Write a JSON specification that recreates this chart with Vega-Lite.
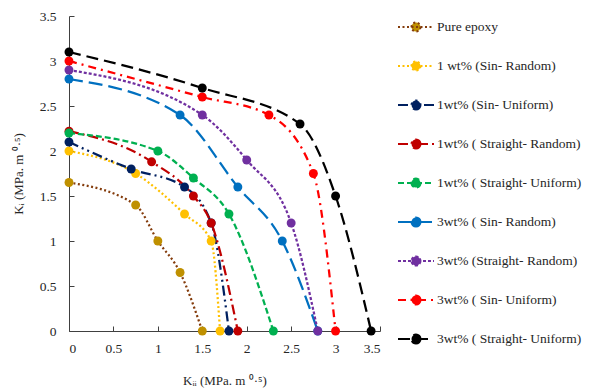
{
  "$schema": "https://vega.github.io/schema/vega-lite/v6.json",
  "width": 311,
  "height": 315,
  "autosize": {"type": "none"},
  "padding": {"left": 69, "top": 16, "right": 213, "bottom": 61},
  "background": "white",
  "config": {
    "view": {"stroke": null},
    "font": "Liberation Serif",
    "axis": {
      "grid": false,
      "domainColor": "#404040",
      "tickColor": "#404040",
      "tickSize": -5,
      "labelFont": "Liberation Serif",
      "labelFontSize": 13.5,
      "labelColor": "#262626",
      "titleFont": "Liberation Serif",
      "titleFontSize": 13,
      "titleFontWeight": "normal",
      "titleColor": "#262626"
    }
  },
  "data": {
    "values": [
      {"s": "Pure epoxy", "x": 0, "y": 1.65},
      {"s": "Pure epoxy", "x": 0.75, "y": 1.4},
      {"s": "Pure epoxy", "x": 1.0, "y": 1.0},
      {"s": "Pure epoxy", "x": 1.25, "y": 0.65},
      {"s": "Pure epoxy", "x": 1.5, "y": 0},
      {"s": "1 wt% (Sin- Random)", "x": 0, "y": 2.0},
      {"s": "1 wt% (Sin- Random)", "x": 0.75, "y": 1.75},
      {"s": "1 wt% (Sin- Random)", "x": 1.3, "y": 1.3},
      {"s": "1 wt% (Sin- Random)", "x": 1.6, "y": 1.0},
      {"s": "1 wt% (Sin- Random)", "x": 1.7, "y": 0},
      {"s": "1wt% (Sin- Uniform)", "x": 0, "y": 2.1},
      {"s": "1wt% (Sin- Uniform)", "x": 0.7, "y": 1.8},
      {"s": "1wt% (Sin- Uniform)", "x": 1.3, "y": 1.6},
      {"s": "1wt% (Sin- Uniform)", "x": 1.6, "y": 1.2},
      {"s": "1wt% (Sin- Uniform)", "x": 1.8, "y": 0},
      {"s": "1wt% ( Straight- Random)", "x": 0, "y": 2.22},
      {"s": "1wt% ( Straight- Random)", "x": 0.93, "y": 1.88},
      {"s": "1wt% ( Straight- Random)", "x": 1.4, "y": 1.5},
      {"s": "1wt% ( Straight- Random)", "x": 1.6, "y": 1.2},
      {"s": "1wt% ( Straight- Random)", "x": 1.9, "y": 0},
      {"s": "1wt% ( Straight- Uniform)", "x": 0, "y": 2.2},
      {"s": "1wt% ( Straight- Uniform)", "x": 1.0, "y": 2.0},
      {"s": "1wt% ( Straight- Uniform)", "x": 1.4, "y": 1.7},
      {"s": "1wt% ( Straight- Uniform)", "x": 1.8, "y": 1.3},
      {"s": "1wt% ( Straight- Uniform)", "x": 2.3, "y": 0},
      {"s": "3wt% ( Sin- Random)", "x": 0, "y": 2.8},
      {"s": "3wt% ( Sin- Random)", "x": 1.25, "y": 2.4},
      {"s": "3wt% ( Sin- Random)", "x": 1.9, "y": 1.6},
      {"s": "3wt% ( Sin- Random)", "x": 2.4, "y": 1.0},
      {"s": "3wt% ( Sin- Random)", "x": 2.8, "y": 0},
      {"s": "3wt% (Straight- Random)", "x": 0, "y": 2.9},
      {"s": "3wt% (Straight- Random)", "x": 1.5, "y": 2.4},
      {"s": "3wt% (Straight- Random)", "x": 2.0, "y": 1.9},
      {"s": "3wt% (Straight- Random)", "x": 2.5, "y": 1.2},
      {"s": "3wt% (Straight- Random)", "x": 2.8, "y": 0},
      {"s": "3wt% ( Sin- Uniform)", "x": 0, "y": 3.0},
      {"s": "3wt% ( Sin- Uniform)", "x": 1.5, "y": 2.6},
      {"s": "3wt% ( Sin- Uniform)", "x": 2.25, "y": 2.4},
      {"s": "3wt% ( Sin- Uniform)", "x": 2.75, "y": 1.75},
      {"s": "3wt% ( Sin- Uniform)", "x": 3.0, "y": 0},
      {"s": "3wt% ( Straight- Uniform)", "x": 0, "y": 3.1},
      {"s": "3wt% ( Straight- Uniform)", "x": 1.5, "y": 2.7},
      {"s": "3wt% ( Straight- Uniform)", "x": 2.6, "y": 2.3},
      {"s": "3wt% ( Straight- Uniform)", "x": 3.0, "y": 1.5},
      {"s": "3wt% ( Straight- Uniform)", "x": 3.4, "y": 0}
    ]
  },
  "layer": [
    {
      "mark": {"type": "line", "interpolate": "monotone", "strokeWidth": 2.25},
      "encoding": {
        "x": {
          "field": "x", "type": "quantitative",
          "scale": {"domain": [0, 3.5], "nice": false},
          "axis": {"values": [0, 0.5, 1, 1.5, 2, 2.5, 3, 3.5], "format": "~g", "labelPadding": 15, "title": "Kᵢᵢ (MPa. m ⁰·⁵)", "titlePadding": 20}
        },
        "y": {
          "field": "y", "type": "quantitative",
          "scale": {"domain": [0, 3.5], "nice": false},
          "axis": {"values": [0, 0.5, 1, 1.5, 2, 2.5, 3, 3.5], "format": "~g", "labelPadding": 18, "title": "Kᵢ (MPa. m ⁰·⁵)", "titlePadding": 14}
        },
        "stroke": {
          "field": "s", "type": "nominal",
          "scale": {
            "domain": ["Pure epoxy", "1 wt% (Sin- Random)", "1wt% (Sin- Uniform)", "1wt% ( Straight- Random)", "1wt% ( Straight- Uniform)", "3wt% ( Sin- Random)", "3wt% (Straight- Random)", "3wt% ( Sin- Uniform)", "3wt% ( Straight- Uniform)"],
            "range": ["#843C0C", "#FFC000", "#002060", "#C00000", "#00B050", "#0070C0", "#7030A0", "#FF0000", "#000000"]
          },
          "legend": {
            "title": null, "orient": "none", "legendX": 328, "legendY": -8, "padding": 0,
            "symbolType": "M-1,0H1M0.25,0C0.25,0.138,0.138,0.25,0,0.25C-0.138,0.25,-0.25,0.138,-0.25,0C-0.25,-0.138,-0.138,-0.25,0,-0.25C0.138,-0.25,0.25,-0.138,0.25,0Z",
            "symbolSize": 1296, "symbolStrokeWidth": 2,
            "labelFont": "Liberation Serif", "labelFontSize": 13.5, "labelColor": "#262626",
            "labelOffset": 2, "rowPadding": 11, "labelLimit": 220,
            "encoding": {"symbols": {"update": {"fill": {"scale": "fill", "field": "value"}, "opacity": {"value": 1}}}}
          }
        },
        "strokeDash": {
          "field": "s", "type": "nominal",
          "scale": {
            "domain": ["Pure epoxy", "1 wt% (Sin- Random)", "1wt% (Sin- Uniform)", "1wt% ( Straight- Random)", "1wt% ( Straight- Uniform)", "3wt% ( Sin- Random)", "3wt% (Straight- Random)", "3wt% ( Sin- Uniform)", "3wt% ( Straight- Uniform)"],
            "range": [[2, 2.5], [2, 2.5], [10, 4, 2, 4, 2, 4], [10, 4, 2, 4], [6, 3], [14, 6], [3, 2], [8, 5, 2, 5], [12, 6]]
          },
          "legend": {
            "title": null, "orient": "none", "legendX": 328, "legendY": -8, "padding": 0,
            "symbolType": "M-1,0H1M0.25,0C0.25,0.138,0.138,0.25,0,0.25C-0.138,0.25,-0.25,0.138,-0.25,0C-0.25,-0.138,-0.138,-0.25,0,-0.25C0.138,-0.25,0.25,-0.138,0.25,0Z",
            "symbolSize": 1296, "symbolStrokeWidth": 2,
            "labelFont": "Liberation Serif", "labelFontSize": 13.5, "labelColor": "#262626",
            "labelOffset": 2, "rowPadding": 11, "labelLimit": 220,
            "encoding": {"symbols": {"update": {"fill": {"scale": "fill", "field": "value"}, "opacity": {"value": 1}}}}
          }
        }
      }
    },
    {
      "mark": {"type": "point", "filled": true, "size": 80, "opacity": 1},
      "encoding": {
        "x": {"field": "x", "type": "quantitative"},
        "y": {"field": "y", "type": "quantitative"},
        "fill": {
          "field": "s", "type": "nominal",
          "scale": {
            "domain": ["Pure epoxy", "1 wt% (Sin- Random)", "1wt% (Sin- Uniform)", "1wt% ( Straight- Random)", "1wt% ( Straight- Uniform)", "3wt% ( Sin- Random)", "3wt% (Straight- Random)", "3wt% ( Sin- Uniform)", "3wt% ( Straight- Uniform)"],
            "range": ["#BF9000", "#FFC000", "#002060", "#C00000", "#00B050", "#0070C0", "#7030A0", "#FF0000", "#000000"]
          },
          "legend": null
        }
      }
    }
  ]
}
